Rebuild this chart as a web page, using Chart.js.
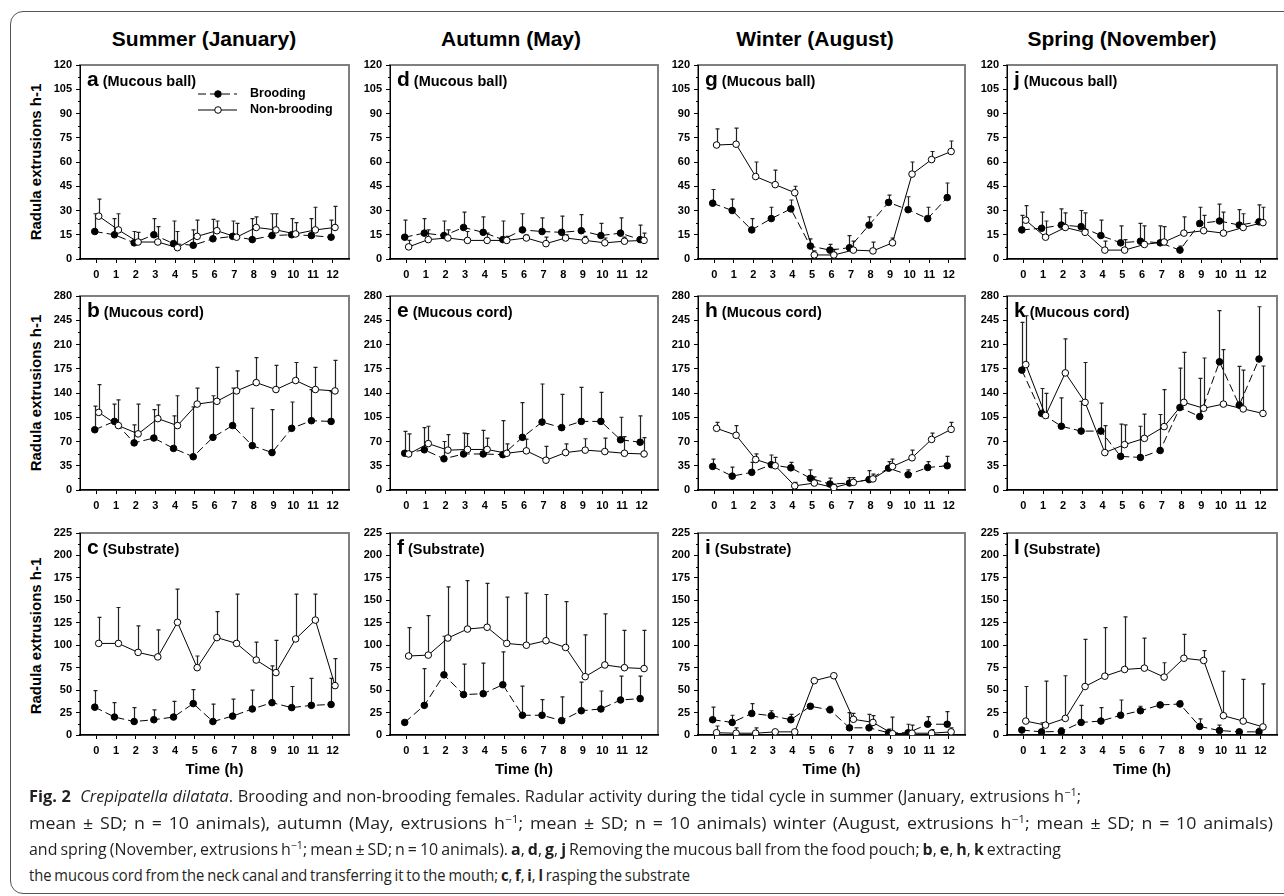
<!DOCTYPE html>
<html><head><meta charset="utf-8">
<script src="https://cdn.jsdelivr.net/npm/chart.js@4.4.1/dist/chart.umd.min.js"></script>
<style>
html,body{margin:0;padding:0;background:#fff;}
body{width:1284px;height:896px;overflow:hidden;position:relative;font-family:'Liberation Sans',Arial,sans-serif;color:#000;}
.frame{position:absolute;left:10px;top:11px;width:1320px;height:883px;border:1.5px solid #555;border-radius:13px;box-sizing:border-box;}
.coltitle{position:absolute;top:26px;font-weight:bold;font-size:21px;white-space:nowrap;transform:translateX(-50%);line-height:26px;}
.ytitle{position:absolute;font-weight:bold;font-size:15px;line-height:18px;white-space:nowrap;transform:translate(-50%,-50%) rotate(-90deg);left:36px;}
canvas{position:absolute;}
.cap{position:absolute;left:29px;font-family:'Open Sans','Noto Sans',sans-serif;font-size:16.5px;white-space:nowrap;transform-origin:0 50%;color:#231f20;line-height:20px;}
.cap sup{font-size:11px;line-height:0;vertical-align:6px;}
</style></head>
<body>
<div class="frame"></div>
<script>
// ---------------- data ----------------
const hours = [0,1,2,3,4,5,6,7,8,9,10,11,12];
const ballTicks = [0,15,30,45,60,75,90,105,120];
const cordTicks = [0,35,70,105,140,175,210,245,280];
const substrateTicks = [0,25,50,75,100,125,150,175,200,225];
const seasonTitles = ['Summer (January)','Autumn (May)','Winter (August)','Spring (November)'];
const yTitle = 'Radula extrusions h-1';
const xTitle = 'Time (h)';
const legendLabels = ['Brooding','Non-brooding'];

// Summer (January)
const aBrood   = [17,15,10,15,9.5,8.5,12.5,14,12,14.5,15,14.5,13.5];
const aBroodSD = [11,10,7,10,14,9.5,12,9.5,13,13.5,10,10.5,10.5];
const aNon     = [26.5,18,10.5,10.5,7,14,17.5,13.5,19.5,18,15.5,18,19.5];
const aNonSD   = [10.5,10,6,9.5,10,10,6,8.5,6.5,10,7,14,13];

const bBrood   = [87,99,68,75,60,48,76,93,64,54,89,100,99];
const bBroodSD = [34,25,26,41,47,72,60,54,54,62,38,45,43];
const bNon     = [112,93,81,103,93,124,128,143,155,145,158,145,143];
const bNonSD   = [40,37,43,20,43,23,49,29,36,35,26,32,44];

const cBrood   = [31,20,15,17,20,35,15,21,29,36,30.5,33,34];
const cBroodSD = [18.5,16,15.5,11,17.5,15.5,19.5,19,21,41,23.5,30,29];
const cNon     = [102,102,92,87,125.5,75,108.5,102,83.5,69.5,107,128,55];
const cNonSD   = [29,40,29.5,30,37,13,29,55,20,36,50,29,30];

// Autumn (May)
const dBrood   = [13.5,16,14.5,19.5,16.5,12,18,17,16.5,17.5,14.5,16,12];
const dBroodSD = [10.5,9,9,9.5,9.5,11.5,10,8.5,10,10,7.5,9.5,9];
const dNon     = [7.5,12,13,11.5,11.5,11.5,13,9.5,13,11.5,10,11,11.5];
const dNonSD   = [4,6,5,5.5,4.5,2.5,2,4,2,2.5,3,2.5,4.5];

const eBrood   = [53,58,45,52,52,51,76,98,90,99,99,72.5,69];
const eBroodSD = [31.5,32,25,30,34,49,50,55,48,49,42,32.5,38];
const eNon     = [52,67,57.5,58.5,58.5,53,56.5,43,54,57.5,55.5,53,52];
const eNonSD   = [29,25,22.5,23,16.5,13.5,17,20,12.5,16.5,19.5,24,23.5];

const fBrood   = [14,33,67,45,46,56,22,22,16,27,29,39,40.5];
const fBroodSD = [0,41,43,34,34,36.5,32.5,17.5,26.5,32,20,26.5,25];
const fNon     = [88,89,108,118,120,102,100,105,97.5,65,78,75,74];
const fNonSD   = [31.5,44,57,54,49,51.5,58,51.5,51,46.5,57,41.5,42.5];

// Winter (August)
const gBrood   = [34.5,30,18,25,31,8,5.5,7,21,35,30.5,25,38];
const gBroodSD = [8.5,7,7,7,5.5,4.5,3.5,7.5,5,4.5,8,7,9];
const gNon     = [70.5,71,51,46,41,2.5,2.5,5.5,5,10,52.5,61.5,66.5];
const gNonSD   = [10,10,9,9,4,2.5,3.5,5.5,5.5,3,7.5,5,6.5];

const hBrood   = [34,20,25.5,36.5,32,17,8.5,10,15,31.5,22,32.5,35];
const hBroodSD = [10.5,13,14.5,14,8,12,8.5,8,13,9.5,7,8.5,13.5];
const hNon     = [89,79,44,35,6,10,3.5,11,16,34,46.5,73,87.5];
const hNonSD   = [8.5,14,8,12,5,9,5,7,7,10.5,11,9,10];

const iBrood   = [17,14,24,21.5,17,32,28,8,8,2.5,2.5,12,12];
const iBroodSD = [14,8,11,5.5,6,1,4,17,15,4,9.5,8.5,14];
const iNon     = [2.5,2,2,3.5,3.5,60.5,66,17.5,14,1.5,2,2,3.5];
const iNonSD   = [7.5,6,6,1,2.5,0.5,1,6.5,7.5,18.5,9,4,4.5];

// Spring (November)
const jBrood   = [18,19,21,20,14.5,10,11,10,5.5,22,23.5,21,23];
const jBroodSD = [9,10,10,10,9.5,10.5,11,10.5,2.5,10,10.5,9.5,10.5];
const jNon     = [24,13.5,19.5,16.5,5.5,5.5,9,10.5,16,17.5,16,19.5,22.5];
const jNonSD   = [9,10,9,12,5.5,6.5,11.5,9.5,10,9.5,13,8.5,9.5];

const kBrood   = [173,110.5,92,85,85,48.5,47,57,119,106,185,122.5,189];
const kBroodSD = [69,36,41,43,40.5,46.5,45,52,57,55,74,56,75.5];
const kNon     = [181,107.5,169,126.5,54,65.5,74.5,91.5,126.5,118,124,117,110.5];
const kNonSD   = [70.5,32,49,57.5,39,28.5,35,53.5,72,72.5,78.5,56,68.5];

const lBrood   = [5.5,3.5,4,14,15.5,22,27,33.5,34.5,9.5,5,3.5,3.5];
const lBroodSD = [2.5,10,4,19,15,17,5,2.5,3.5,8.5,6,1.5,4];
const lNon     = [15.5,11,18.5,54,65.5,73,74.5,64.5,85.5,83,21.5,15.5,9];
const lNonSD   = [38.5,49,47.5,52.5,54,58.5,33.5,16,26.5,11,49.5,46.5,48];

const panelNames = ['(Mucous ball)','(Mucous cord)','(Substrate)'];

// ---------------- layout ----------------
const cols = [{x:80,w:269},{x:390,w:268},{x:698,w:267},{x:1007,w:270}];
const rows = [{y:65,h:194},{y:296,h:194},{y:533,h:202}];
const titleCenters = [204,511,815,1122];
const yTitleCenters = [162,393,636];

const panels = [
 {id:'a',col:0,row:0,ticks:ballTicks,b:aBrood,bsd:aBroodSD,n:aNon,nsd:aNonSD,legend:true},
 {id:'b',col:0,row:1,ticks:cordTicks,b:bBrood,bsd:bBroodSD,n:bNon,nsd:bNonSD},
 {id:'c',col:0,row:2,ticks:substrateTicks,b:cBrood,bsd:cBroodSD,n:cNon,nsd:cNonSD},
 {id:'d',col:1,row:0,ticks:ballTicks,b:dBrood,bsd:dBroodSD,n:dNon,nsd:dNonSD},
 {id:'e',col:1,row:1,ticks:cordTicks,b:eBrood,bsd:eBroodSD,n:eNon,nsd:eNonSD},
 {id:'f',col:1,row:2,ticks:substrateTicks,b:fBrood,bsd:fBroodSD,n:fNon,nsd:fNonSD},
 {id:'g',col:2,row:0,ticks:ballTicks,b:gBrood,bsd:gBroodSD,n:gNon,nsd:gNonSD},
 {id:'h',col:2,row:1,ticks:cordTicks,b:hBrood,bsd:hBroodSD,n:hNon,nsd:hNonSD},
 {id:'i',col:2,row:2,ticks:substrateTicks,b:iBrood,bsd:iBroodSD,n:iNon,nsd:iNonSD},
 {id:'j',col:3,row:0,ticks:ballTicks,b:jBrood,bsd:jBroodSD,n:jNon,nsd:jNonSD},
 {id:'k',col:3,row:1,ticks:cordTicks,b:kBrood,bsd:kBroodSD,n:kNon,nsd:kNonSD},
 {id:'l',col:3,row:2,ticks:substrateTicks,b:lBrood,bsd:lBroodSD,n:lNon,nsd:lNonSD}
];

Chart.defaults.font.family = "'Liberation Sans', Arial, sans-serif";
Chart.defaults.color = '#000';

// titles
seasonTitles.forEach((t,i)=>{
  const d=document.createElement('div'); d.className='coltitle'; d.textContent=t;
  d.style.left=titleCenters[i]+'px'; document.body.appendChild(d);
});
yTitleCenters.forEach(cy=>{
  const d=document.createElement('div'); d.className='ytitle'; d.textContent=yTitle;
  d.style.top=cy+'px'; document.body.appendChild(d);
});

function drawMarker(ctx,x,y,filled){
  ctx.beginPath(); ctx.arc(x,y,3.3,0,Math.PI*2);
  ctx.fillStyle=filled?'#000':'#fff'; ctx.fill();
  ctx.lineWidth=1; ctx.strokeStyle='#000'; ctx.stroke();
}

function decoPlugin(p, yt){
  return {
    id:'deco',
    beforeDraw(chart){
      const {ctx, chartArea:a} = chart;
      ctx.save(); ctx.strokeStyle='#7f7f7f'; ctx.lineWidth=2;
      ctx.strokeRect(a.left, a.top, a.right-a.left, a.bottom-a.top); ctx.restore();
    },
    beforeDatasetsDraw(chart){
      const {ctx} = chart; const xs = chart.scales.x, ys = chart.scales.y;
      ctx.save(); ctx.strokeStyle='#222'; ctx.lineWidth=1.2;
      chart.data.datasets.forEach(ds=>{
        ds.data.forEach((pt,j)=>{
          const s = ds.sd[j]; if(!s) return;
          const px = Math.round(xs.getPixelForValue(pt.x))+0.5;
          const y0 = ys.getPixelForValue(pt.y), y1 = ys.getPixelForValue(pt.y+s);
          ctx.beginPath(); ctx.moveTo(px,y0); ctx.lineTo(px,y1);
          ctx.moveTo(px-2,y1); ctx.lineTo(px+2,y1); ctx.stroke();
        });
      });
      ctx.restore();
    },
    afterDraw(chart){
      const {ctx, chartArea:a} = chart; const ys = chart.scales.y;
      ctx.save();
      // minor ticks
      ctx.strokeStyle='#000'; ctx.lineWidth=1;
      yt.forEach((v,i)=>{ if(i%2===1){ const py=Math.round(ys.getPixelForValue(v))+0.5;
        ctx.beginPath(); ctx.moveTo(a.left-2,py); ctx.lineTo(a.left,py); ctx.stroke(); }});
      // panel label
      ctx.fillStyle='#000'; ctx.textBaseline='alphabetic'; ctx.textAlign='left';
      ctx.font="bold 21px 'Liberation Sans', Arial, sans-serif";
      const lx=a.left+7, ly=a.top+21;
      ctx.fillText(p.id, lx, ly);
      const lw=ctx.measureText(p.id).width;
      ctx.font="bold 14.5px 'Liberation Sans', Arial, sans-serif";
      ctx.fillText(panelNames[p.row], lx+lw+4, ly);
      // legend
      if(p.legend){
        const ds = chart.data.datasets;
        [0,1].forEach(k=>{
          const yy = a.top+29+k*16;
          ctx.strokeStyle='#000'; ctx.lineWidth=1;
          ctx.setLineDash(ds[k].borderDash||[]);
          ctx.beginPath(); ctx.moveTo(a.left+118,yy); ctx.lineTo(a.left+157,yy); ctx.stroke();
          ctx.setLineDash([]);
          drawMarker(ctx, a.left+138, yy, k===0);
          ctx.fillStyle='#000'; ctx.textBaseline='middle';
          ctx.font="bold 12.5px 'Liberation Sans', Arial, sans-serif";
          ctx.fillText(ds[k].label, a.left+170, yy);
        });
      }
      ctx.restore();
    }
  };
}

function build(p){
  const c=cols[p.col], r=rows[p.row];
  const padL=60, padT=12, padR=6, axisH = p.row===2 ? 52 : 28;
  const W=c.w+padL+padR, H=r.h+padT+axisH;
  const cv=document.createElement('canvas');
  cv.width=W; cv.height=H; cv.style.width=W+'px'; cv.style.height=H+'px';
  cv.style.left=(c.x-padL)+'px'; cv.style.top=(r.y-padT)+'px';
  document.body.appendChild(cv);
  const yt=[];
  p.ticks.forEach((v,i)=>{ yt.push(v); if(i<p.ticks.length-1) yt.push((v+p.ticks[i+1])/2); });
  new Chart(cv,{
    type:'line',
    data:{datasets:[
      {label:legendLabels[0], data:hours.map((h,i)=>({x:h-0.08,y:p.b[i]})), sd:p.bsd,
       borderColor:'#000', borderWidth:1, borderDash:[8,4], pointBackgroundColor:'#000', pointBorderColor:'#000',
       pointRadius:3.3, pointBorderWidth:1, pointHoverRadius:3.3, tension:0, fill:false, order:1},
      {label:legendLabels[1], data:hours.map((h,i)=>({x:h+0.12,y:p.n[i]})), sd:p.nsd,
       borderColor:'#000', borderWidth:1, pointBackgroundColor:'#fff', pointBorderColor:'#000',
       pointRadius:3.3, pointBorderWidth:1, pointHoverRadius:3.3, tension:0, fill:false, order:0}
    ]},
    options:{
      responsive:false, animation:false, devicePixelRatio:1, events:[],
      layout:{padding:{left:0,top:padT,right:padR,bottom:0}},
      plugins:{legend:{display:false}, tooltip:{enabled:false}},
      scales:{
        x:{type:'linear', min:-0.83, max:12.83,
           afterBuildTicks:s=>{ s.ticks=hours.map(v=>({value:v})); },
           afterFit:s=>{ s.height=axisH; },
           ticks:{autoSkip:false, maxRotation:0, padding:5, color:'#000', font:{size:11,weight:'bold'}, callback:v=>String(v)},
           grid:{drawOnChartArea:false, drawTicks:true, tickLength:4, tickColor:'#000', tickWidth:1},
           border:{display:true, color:'#000', width:1.5},
           title:{display:p.row===2, text:xTitle, color:'#000', font:{size:15,weight:'bold'}, padding:{top:0,bottom:8}}},
        y:{type:'linear', min:0, max:p.ticks[p.ticks.length-1],
           afterBuildTicks:s=>{ s.ticks=yt.map(v=>({value:v})); },
           afterFit:s=>{ s.width=padL; },
           ticks:{autoSkip:false, padding:4, color:'#000', font:{size:11,weight:'bold'}, callback:(v,i)=> i%2===0 ? String(v) : ''},
           grid:{drawOnChartArea:false, drawTicks:true, tickLength:4, tickWidth:1,
                 tickColor:ctx=> (ctx.index%2===0 ? '#000' : 'rgba(0,0,0,0)')},
           border:{display:true, color:'#000', width:1}}
      }
    },
    plugins:[decoPlugin(p,yt)]
  });
}
panels.forEach(build);
</script>

<div class="cap" style="top:786px"><b>Fig. 2</b>&nbsp; <i>Crepipatella dilatata</i>. Brooding and non-brooding females. Radular activity during the tidal cycle in summer (January, extrusions h<sup>−1</sup>;</div>
<div class="cap" style="top:813px">mean ± SD; n = 10 animals), autumn (May, extrusions h<sup>−1</sup>; mean ± SD; n = 10 animals) winter (August, extrusions h<sup>−1</sup>; mean ± SD; n = 10 animals)</div>
<div class="cap" style="top:839px">and spring (November, extrusions h<sup>−1</sup>; mean ± SD; n = 10 animals). <b>a</b>, <b>d</b>, <b>g</b>, <b>j</b> Removing the mucous ball from the food pouch; <b>b</b>, <b>e</b>, <b>h</b>, <b>k</b> extracting</div>
<div class="cap" style="top:865px">the mucous cord from the neck canal and transferring it to the mouth; <b>c</b>, <b>f</b>, <b>i</b>, <b>l</b> rasping the substrate</div>
<script>
const capTargets=[1052,1244,1032,661];
function fitCaps(){
  const els=[...document.querySelectorAll('.cap')];
  els.forEach(el=>{ el.style.transform='none'; el.style.wordSpacing='0px'; });
  const widths=els.map(el=>el.getBoundingClientRect().width);
  const spaces=els.map(el=>(el.textContent.match(/ /g)||[]).length);
  const s=capTargets.reduce((a,b)=>a+b,0)/widths.reduce((a,b)=>a+b,0);
  els.forEach((el,i)=>{
    let ws=(capTargets[i]/s-widths[i])/Math.max(1,spaces[i]);
    ws=Math.max(-1.2,Math.min(2,ws));
    el.style.wordSpacing=ws+'px';
    const w2=el.getBoundingClientRect().width;
    el.style.transform='scaleX('+(capTargets[i]/w2)+')';
  });
}
fitCaps();
if(document.fonts&&document.fonts.ready) document.fonts.ready.then(fitCaps);
</script>
</body></html>
